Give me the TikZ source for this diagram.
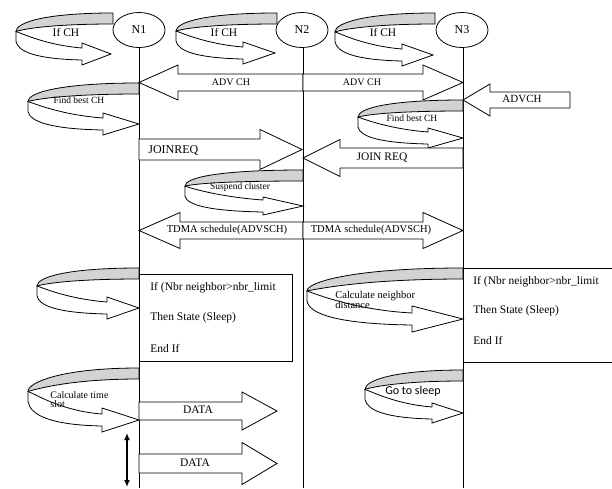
\documentclass[tikz,border=0pt]{standalone}
\usepackage{fontspec}
\setmainfont{Liberation Serif}
\newfontfamily\calfont{Carlito}
\usetikzlibrary{shapes.geometric,arrows.meta}
\definecolor{bandgrey}{RGB}{211,211,211}
\newcommand\fsz[1]{\fontsize{#1}{#1}\selectfont}
% curved (u-turn) block arrow: #1 right x, #2 top y, #3 left x, #4 tip y, #5 head base x, #6 tip x, #7 head half width
\newcommand\uarrow[7]{%
  \pgfmathsetmacro\UAa{#2+0.45*(#4-#2)}%
  \pgfmathsetmacro\UAb{\UAa+10}%
  \pgfmathsetmacro\UAw{#1-#3}%
  \pgfmathsetmacro\UAh{#5-#3}%
  \draw[fill=bandgrey] (#1,#2) .. controls ({#3+0.3*\UAw},#2) and (#3,{\UAa-9}) .. (#3,\UAa)
     .. controls ({#3+0.1*\UAw},{\UAa-3}) and ({#3+0.4*\UAw},{#2+11}) .. (#1,{#2+11}) -- cycle;
  \draw[fill=white] (#3,\UAa) -- (#3,\UAb)
     .. controls ({#3+2},{\UAb+0.55*(#4+6-\UAb)}) and ({#3+0.3*\UAh},{#4+5}) .. (#5,{#4+6})
     -- (#5,{#4+#7}) -- (#6,#4) -- (#5,{#4-#7}) -- (#5,{#4-6})
     .. controls ({#3+0.45*\UAh},{#4-9}) and ({#3+6},{\UAa+2}) .. (#3,\UAa) -- cycle;
}
% straight block arrow: #1 tail x, #2 tip x, #3 centre y, #4 head base x, #5 shaft half, #6 head half
\newcommand\barrow[6]{%
  \draw[fill=white] (#1,{#3-#5}) -- (#4,{#3-#5}) -- (#4,{#3-#6}) -- (#2,#3)
     -- (#4,{#3+#6}) -- (#4,{#3+#5}) -- (#1,{#3+#5}) -- cycle;
}
\begin{document}
\begin{tikzpicture}[x=1pt,y=-1pt,line width=0.8pt,
  ell/.style={draw,ellipse,minimum width=52pt,minimum height=35pt,inner sep=0pt,font=\fsz{12}},
  lbl/.style={inner sep=0pt,font=\fsz{11}},
  lft/.style={inner sep=0pt,anchor=west,font=\fsz{11.5}}]
\useasboundingbox (0,0) rectangle (612,488);
% nodes and lifelines
\node[ell] (N1) at (139,30) {N1};
\node[ell] (N2) at (302,30) {N2};
\node[ell] (N3) at (462,30) {N3};
\coordinate (N1e) at (139,488);
\coordinate (N2e) at (303,488);
\coordinate (N3e) at (463,488);
\draw (139,47.5) -- (N1e);
\draw (303,47.5) -- (N2e);
\draw (463,47.5) -- (N3e);
% If CH loops
\uarrow{113}{13}{16}{54}{82}{111}{11}
\uarrow{277}{13}{176}{53}{243}{275}{11}
\uarrow{435}{13}{335}{55}{402}{433}{11}
\node[lbl,font=\fsz{11.5}] (t1) at (66,33) {If CH};
\node[lbl,font=\fsz{11.5}] (t2) at (224,33) {If CH};
\node[lbl,font=\fsz{11.5}] (t3) at (383,33) {If CH};
% ADV CH
\barrow{303}{139}{82.5}{178}{8.5}{17.5}
\barrow{303}{463}{82.5}{423}{8.5}{17.5}
\barrow{570}{463}{100}{490}{8}{16}
\node[lbl,font=\fsz{10}] (a1) at (231,82) {ADV CH};
\node[lbl,font=\fsz{10}] (a2) at (362,82) {ADV CH};
\node[lbl,font=\fsz{11}] (a3) at (522,99) {ADVCH};
% Find best CH
\uarrow{139}{83}{28}{124}{103}{139}{11}
\uarrow{463}{100}{358}{138}{428}{463}{10}
\node[lbl,font=\fsz{9.5}] (f1) at (79,100) {Find best CH};
\node[lbl,font=\fsz{9.5}] (f2) at (412,118) {Find best CH};
% JOIN REQ
\barrow{139}{302}{149.5}{260}{10.5}{20}
\barrow{463}{303}{158}{340}{10}{18.5}
\node[lft,font=\fsz{12}] (j1) at (148,150) {JOINREQ};
\node[lbl,font=\fsz{11.5}] (j2) at (382,158) {JOIN REQ};
% Suspend cluster
\uarrow{303}{170}{185}{206}{263}{303}{9}
\node[lbl,font=\fsz{9.5}] (s1) at (240,187) {Suspend cluster};
% TDMA
\barrow{303}{139}{230.5}{180}{8.5}{18}
\barrow{303}{463}{230.5}{423}{8.5}{18}
\node[lbl,font=\fsz{10.5}] (d1) at (227,230) {TDMA schedule(ADVSCH)};
\node[lbl,font=\fsz{10.5}] (d2) at (371,230) {TDMA schedule(ADVSCH)};
% N1 condition loop and box
\uarrow{139}{268}{37}{308}{107}{139}{11}
\draw (139,274) rectangle (292,361);
\node[lft] (b1) at (150,288) {If (Nbr neighbor>nbr\_limit};
\node[lft] (b2) at (150,318) {Then State (Sleep)};
\node[lft] (b3) at (150,348) {End If};
% N3 calculate neighbor distance and box
\uarrow{463}{268}{307}{319}{412}{463}{13}
\node[inner sep=0pt,anchor=west,font=\fsz{10.5},align=left] (c1) at (335,300) {Calculate neighbor\\[-1pt]distance};
\draw (613,268) -- (463,268) -- (463,362) -- (613,362);
\node[lft] (e1) at (473,282) {If (Nbr neighbor>nbr\_limit};
\node[lft] (e2) at (473,311) {Then State (Sleep)};
\node[lft] (e3) at (473,340) {End If};
% Calculate time slot
\uarrow{139}{368}{28}{420}{102}{139}{12}
\node[inner sep=0pt,anchor=west,font=\fsz{10},align=left] (c2) at (50,400) {Calculate time\\[-1pt]slot};
% DATA
\barrow{139}{277}{411}{242}{9}{19}
\barrow{139}{277}{463.5}{242}{9.5}{21}
\node[lbl,font=\fsz{11.5}] (g1) at (198,410) {DATA};
\node[lbl,font=\fsz{11.5}] (g2) at (195,463) {DATA};
% Go to sleep
\uarrow{463}{370}{365}{413}{432}{463}{10}
\node[lbl,font=\calfont\fsz{12}] (z1) at (413,391) {Go to sleep};
% interval arrow
\coordinate (v1) at (127,433);
\coordinate (v2) at (127,487);
\draw[line width=1.6pt,{Latex[length=7pt,width=6pt]}-{Latex[length=7pt,width=6pt]}] (v1) -- (v2);
\end{tikzpicture}
\end{document}
